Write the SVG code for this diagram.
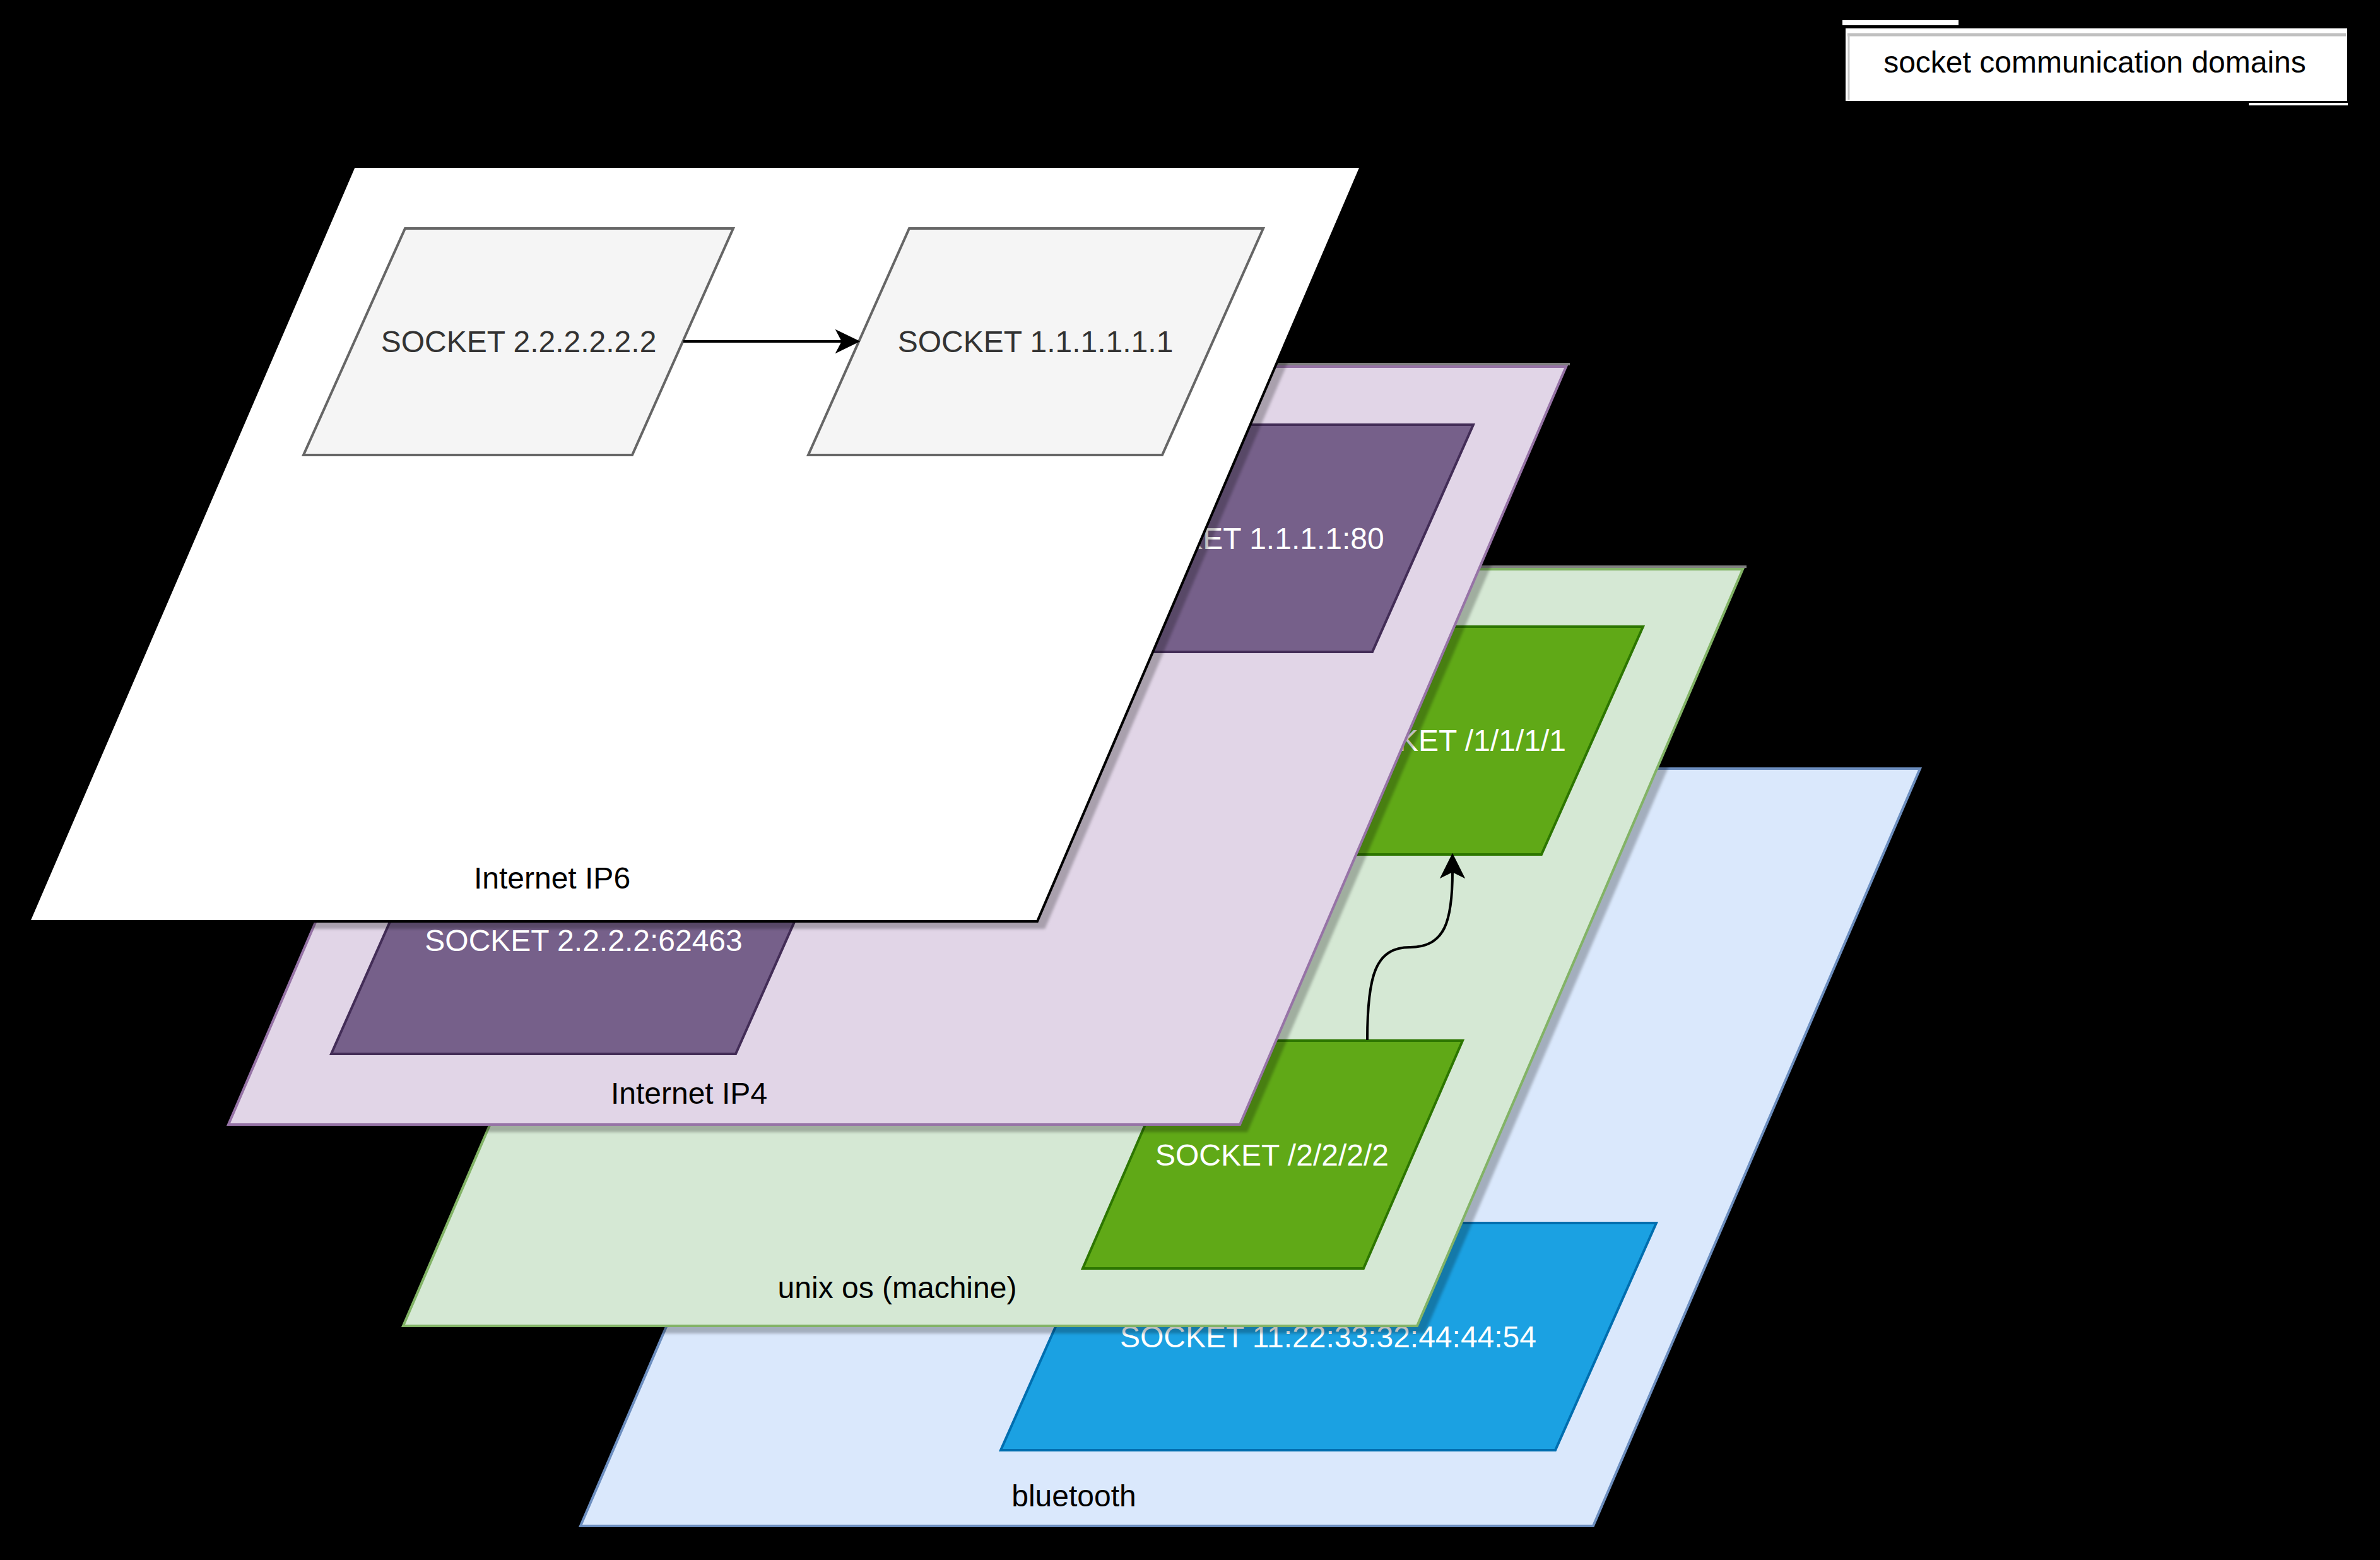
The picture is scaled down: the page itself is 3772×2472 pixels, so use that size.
<svg xmlns="http://www.w3.org/2000/svg" width="3772" height="2472" viewBox="0 0 3772 2472">
<style>
text{font-family:"Liberation Sans",Arial,Helvetica,sans-serif;font-size:48px;text-anchor:middle}
.sh{fill:#000;fill-opacity:0.25;stroke:none}
.ip6{fill:#ffffff;stroke:#000000;stroke-width:4}
.ip4{fill:#e1d5e7;stroke:#9673a6;stroke-width:4}
.unix{fill:#d5e8d4;stroke:#82b366;stroke-width:4}
.bt{fill:#dae8fc;stroke:#6c8ebf;stroke-width:4}
.s6{fill:#f5f5f5;stroke:#666666;stroke-width:4}
.s4{fill:#76608a;stroke:#432d57;stroke-width:4}
.su{fill:#60a917;stroke:#2d7600;stroke-width:4}
.sb{fill:#1ba1e2;stroke:#006eaf;stroke-width:4}
.dark{fill:#333333}
.white{fill:#ffffff}
.lbl{fill:#000000}
.edge{fill:none;stroke:#000000;stroke-width:4}
.head{fill:#000000;stroke:#000000;stroke-width:2}
.rim{stroke:#808080;stroke-width:4;fill:none}
</style>
<defs>
<filter id="blur" x="-5%" y="-5%" width="110%" height="110%"><feGaussianBlur stdDeviation="2"/></filter>
</defs>
<rect x="0" y="0" width="3772" height="2472" fill="#000000"/>

<g id="legend">
<rect x="2920" y="32" width="184" height="8" fill="#ffffff"/>
<rect x="2925" y="45" width="795" height="115" fill="#ffffff"/>
<line x1="2928" y1="55" x2="3718" y2="55" stroke="#c0c0c0" stroke-width="5"/>
<line x1="2930" y1="55" x2="2930" y2="158" stroke="#c8c8c8" stroke-width="3"/>
<rect x="3564" y="163" width="157" height="4" fill="#ffffff"/>
<text x="3320" y="115" class="lbl">socket communication domains</text>
</g>

<g id="plane-bluetooth">
<polygon class="sh" filter="url(#blur)" transform="translate(12,12)" points="1437,1218 3043,1218 2525,2418 920,2418"/>
<polygon class="bt" points="1437,1218 3043,1218 2525,2418 920,2418"/>
<text x="1702" y="2387" class="lbl">bluetooth</text>
</g>
<g id="socket-bt">
<polygon class="sb" points="1746,1938 2625,1938 2465,2298 1586,2298"/>
<text x="2105" y="2135" class="white">SOCKET 11:22:33:32:44:44:54</text>
</g>

<g id="plane-unix">
<polygon class="sh" filter="url(#blur)" transform="translate(12,12)" points="1156,902 2762,902 2246,2101 639,2101"/>
<line class="rim" x1="1160" y1="898" x2="2768" y2="898"/>
<polygon class="unix" points="1156,902 2762,902 2246,2101 639,2101"/>
<text x="1422" y="2057" class="lbl">unix os (machine)</text>
</g>
<g id="socket-unix-1">
<polygon class="su" points="2150,993 2604,993 2443,1354 1990,1354"/>
<text x="2297" y="1190" class="white">SOCKET /1/1/1/1</text>
</g>
<g id="socket-unix-2">
<polygon class="su" points="1873,1649 2318,1649 2161,2010 1716,2010"/>
<text x="2016" y="1847" class="white">SOCKET /2/2/2/2</text>
</g>

<g id="plane-ip4">
<polygon class="sh" filter="url(#blur)" transform="translate(12,12)" points="879,581 2482,581 1965,1782 362,1782"/>
<line class="rim" x1="883" y1="577" x2="2488" y2="577"/>
<polygon class="ip4" points="879,581 2482,581 1965,1782 362,1782"/>
<text x="1092" y="1749" class="lbl">Internet IP4</text>
</g>
<g id="socket-ip4-1">
<polygon class="s4" points="1790,673 2335,673 2175,1033 1630,1033"/>
<text x="1982" y="870" class="white">SOCKET 1.1.1.1:80</text>
</g>
<g id="socket-ip4-2">
<polygon class="s4" points="685,1310 1326,1310 1166,1670 525,1670"/>
<text x="925" y="1507" class="white">SOCKET 2.2.2.2:62463</text>
</g>

<g id="plane-ip6">
<polygon class="sh" filter="url(#blur)" transform="translate(12,12)" points="561,264 2157,264 1644,1460 46,1460"/>
<polygon class="ip6" points="561,264 2157,264 1644,1460 46,1460"/>
<text x="875" y="1408" class="lbl">Internet IP6</text>
</g>
<g id="socket-ip6-2">
<polygon class="s6" points="642,362 1162,362 1002,721 481,721"/>
<text x="822" y="558" class="dark">SOCKET 2.2.2.2.2.2</text>
</g>
<g id="socket-ip6-1">
<polygon class="s6" points="1441,362 2002,362 1842,721 1281,721"/>
<text x="1641" y="558" class="dark">SOCKET 1.1.1.1.1.1</text>
</g>

<g id="connectors">
<path class="edge" d="M1083,541 L1338,541"/>
<polygon class="head" points="1361,541 1326,524 1335,541 1326,558"/>
<path class="edge" d="M2167,1648 C2167,1545 2180,1501 2235,1501 C2290,1501 2302,1460 2302,1380"/>
<polygon class="head" points="2302,1354 2284,1390 2302,1381 2320,1390"/>
</g>
</svg>
